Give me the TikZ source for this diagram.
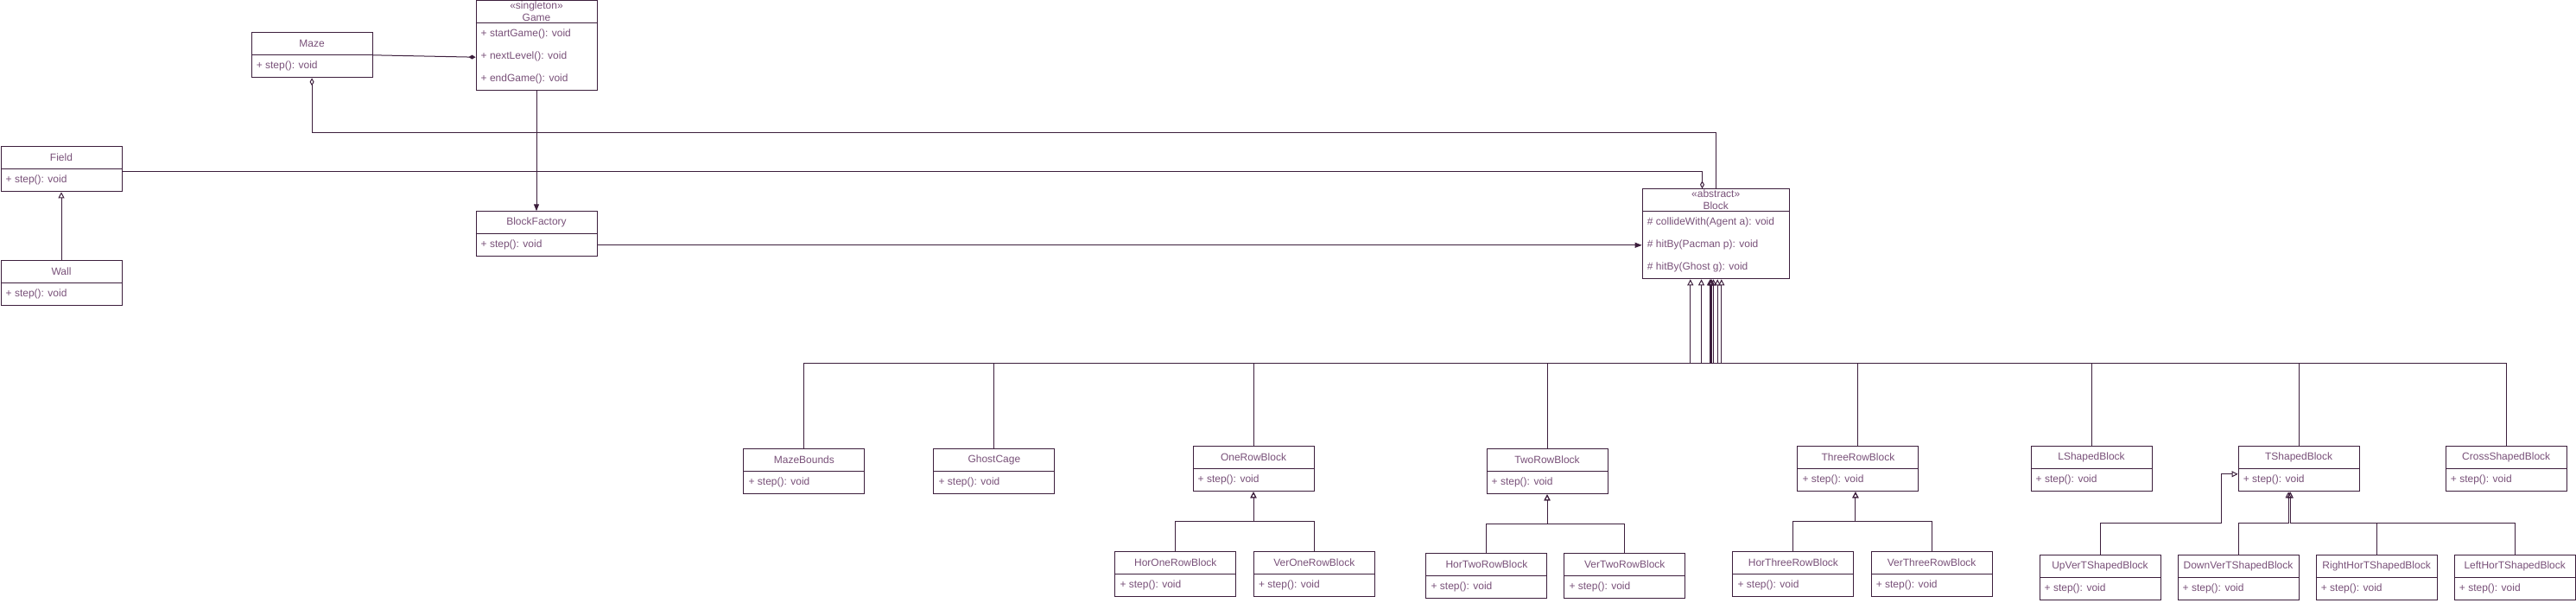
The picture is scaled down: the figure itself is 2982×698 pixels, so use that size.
\documentclass[tikz,border=0pt]{standalone}
\usepackage{fontspec}
\setmainfont{Liberation Sans}
\usetikzlibrary{arrows.meta}

\definecolor{umlline}{RGB}{60,30,60}
\definecolor{umltext}{RGB}{120,80,120}

% class with one "+ step(): void" row: name, top left corner, title
\newcommand{\stepclass}[3]{%
  \node[classbox, anchor=north west] (#1) at (#2) {};
  \draw[boxline] ([yshift=-26pt]#1.north west) -- ([yshift=-26pt]#1.north east);
  \node[classtext] at ([yshift=-13pt]#1.north) {#3};
  \node[classtext, anchor=west] at ([xshift=6pt,yshift=-39pt]#1.north west) {+ step(): void};
}

\begin{document}
\begin{tikzpicture}[x=1pt, y=-1pt,
    classbox/.style={draw=umlline, line width=1pt, minimum width=140pt, minimum height=52pt, inner sep=0pt},
    classtext/.style={text=umltext, font=\fontsize{12}{14}\selectfont, inner sep=0pt},
    boxline/.style={draw=umlline, line width=1pt},
    assoc/.style={draw=umlline, line width=1pt},
    inherit/.style={assoc, -{Triangle[open, length=7pt, width=7pt]}},
    aggr/.style={assoc, {Diamond[open, length=9pt, width=5pt]}-},
    compos/.style={assoc, -{Diamond[length=8pt, width=5pt]}},
    navig/.style={assoc, -{Triangle[length=8pt, width=6pt]}}]
    \useasboundingbox (0,0) rectangle (2982,698);
    % Draw top classes
    \stepclass{Maze}{290.6,37.3}{Maze}
    \stepclass{Field}{0.5,169.3}{Field}
    \stepclass{Wall}{0.5,301.3}{Wall}
    \stepclass{BlockFactory}{550.5,244.3}{BlockFactory}
    % Game (singleton)
    \node[classbox, minimum height=104pt, anchor=north west] (Game) at (550.5,0.5) {};
    \draw[boxline] ([yshift=-26pt]Game.north west) -- ([yshift=-26pt]Game.north east);
    \node[classtext, align=center] at ([yshift=-13pt]Game.north) {«singleton»\\Game};
    \node[classtext, anchor=west] at ([xshift=6pt,yshift=-39pt]Game.north west) {+ startGame(): void};
    \node[classtext, anchor=west] at ([xshift=6pt,yshift=-65pt]Game.north west) {+ nextLevel(): void};
    \node[classtext, anchor=west] at ([xshift=6pt,yshift=-91pt]Game.north west) {+ endGame(): void};
    % Block (abstract)
    \node[classbox, minimum width=170pt, minimum height=104pt, anchor=north west] (Block) at (1900.7,218.3) {};
    \draw[boxline] ([yshift=-26pt]Block.north west) -- ([yshift=-26pt]Block.north east);
    \node[classtext, align=center] at ([yshift=-13pt]Block.north) {«abstract»\\Block};
    \node[classtext, anchor=west] at ([xshift=6pt,yshift=-39pt]Block.north west) {\# collideWith(Agent a): void};
    \node[classtext, anchor=west] at ([xshift=6pt,yshift=-65pt]Block.north west) {\# hitBy(Pacman p): void};
    \node[classtext, anchor=west] at ([xshift=6pt,yshift=-91pt]Block.north west) {\# hitBy(Ghost g): void};
    % Draw subclasses of Block
    \stepclass{MazeBounds}{860.4,519.3}{MazeBounds}
    \stepclass{GhostCage}{1080.4,519.3}{GhostCage}
    \stepclass{OneRowBlock}{1380.5,516.3}{OneRowBlock}
    \stepclass{TwoRowBlock}{1720.5,519.3}{TwoRowBlock}
    \stepclass{ThreeRowBlock}{2080.4,516.3}{ThreeRowBlock}
    \stepclass{LShapedBlock}{2350.5,516.3}{LShapedBlock}
    \stepclass{TShapedBlock}{2590.6,516.3}{TShapedBlock}
    \stepclass{CrossShapedBlock}{2830.7,516.3}{CrossShapedBlock}
    % Draw bottom row
    \stepclass{HorOneRowBlock}{1290.3,638.3}{HorOneRowBlock}
    \stepclass{VerOneRowBlock}{1450.8,638.3}{VerOneRowBlock}
    \stepclass{HorTwoRowBlock}{1650.4,640.3}{HorTwoRowBlock}
    \stepclass{VerTwoRowBlock}{1810.3,640.3}{VerTwoRowBlock}
    \stepclass{HorThreeRowBlock}{2005.4,638.3}{HorThreeRowBlock}
    \stepclass{VerThreeRowBlock}{2165.6,638.3}{VerThreeRowBlock}
    \stepclass{UpVerTShapedBlock}{2360.5,642.3}{UpVerTShapedBlock}
    \stepclass{DownVerTShapedBlock}{2520.5,642.3}{DownVerTShapedBlock}
    \stepclass{RightHorTShapedBlock}{2680.6,642.3}{RightHorTShapedBlock}
    \stepclass{LeftHorTShapedBlock}{2840.7,642.3}{LeftHorTShapedBlock}
    % Draw associations
    \coordinate (mazebus) at (0,153.3);
    \coordinate (blockbus) at (0,420);
    \draw[compos] (Maze.east) -- ([yshift=-13.2pt]Game.west); % Maze in Game
    \draw[navig] (Game.south) -- (BlockFactory.north);
    \draw[navig] ([yshift=-13pt]BlockFactory.east) -- ([yshift=-13pt]Block.west);
    \draw[aggr] (Maze.south) -- (Maze.south |- mazebus) -| (Block.north);
    \draw[aggr] ([xshift=-15.7pt]Block.north) |- ([yshift=-3pt]Field.east);
    \draw[inherit] (Wall.north) -- (Field.south);
    % Draw generalizations to Block
    \draw[inherit] (MazeBounds.north) -- (MazeBounds.north |- blockbus) -| ([xshift=-5.7pt]Block.south);
    \draw[inherit] (GhostCage.north) -- (GhostCage.north |- blockbus) -| ([xshift=-6.7pt]Block.south);
    \draw[inherit] (OneRowBlock.north) -- (OneRowBlock.north |- blockbus) -| ([xshift=-29.4pt]Block.south);
    \draw[inherit] (TwoRowBlock.north) -- (TwoRowBlock.north |- blockbus) -| ([xshift=-16.7pt]Block.south);
    \draw[inherit] (ThreeRowBlock.north) -- (ThreeRowBlock.north |- blockbus) -| ([xshift=-2.7pt]Block.south);
    \draw[inherit] (LShapedBlock.north) -- (LShapedBlock.north |- blockbus) -| ([xshift=2pt]Block.south);
    \draw[inherit] (TShapedBlock.north) -- (TShapedBlock.north |- blockbus) -| ([xshift=6.6pt]Block.south);
    \draw[inherit] (CrossShapedBlock.north) -- (CrossShapedBlock.north |- blockbus) -| ([xshift=-4.7pt]Block.south);
    % Draw generalizations in the bottom row
    \draw[inherit] (HorOneRowBlock.north) -- ++(0,-35) -| (OneRowBlock.south);
    \draw[inherit] (VerOneRowBlock.north) -- ++(0,-35) -| (OneRowBlock.south);
    \draw[inherit] (HorTwoRowBlock.north) -- ++(0,-34.3) -| (TwoRowBlock.south);
    \draw[inherit] (VerTwoRowBlock.north) -- ++(0,-34.3) -| (TwoRowBlock.south);
    \draw[inherit] (HorThreeRowBlock.north) -- ++(0,-35) -| ([xshift=-3pt]ThreeRowBlock.south);
    \draw[inherit] (VerThreeRowBlock.north) -- ++(0,-35) -| ([xshift=-3pt]ThreeRowBlock.south);
    \draw[inherit] (UpVerTShapedBlock.north) -- ++(0,-37.3) -- ++(140,0) |- ([yshift=-6pt]TShapedBlock.west);
    \draw[inherit] (DownVerTShapedBlock.north) -- ++(0,-37.3) -| ([xshift=-12pt]TShapedBlock.south);
    \draw[inherit] (RightHorTShapedBlock.north) -- ++(0,-37.3) -| ([xshift=-10pt]TShapedBlock.south);
    \draw[inherit] (LeftHorTShapedBlock.north) -- ++(0,-37.3) -| ([xshift=-10pt]TShapedBlock.south);
\end{tikzpicture}
\end{document}
